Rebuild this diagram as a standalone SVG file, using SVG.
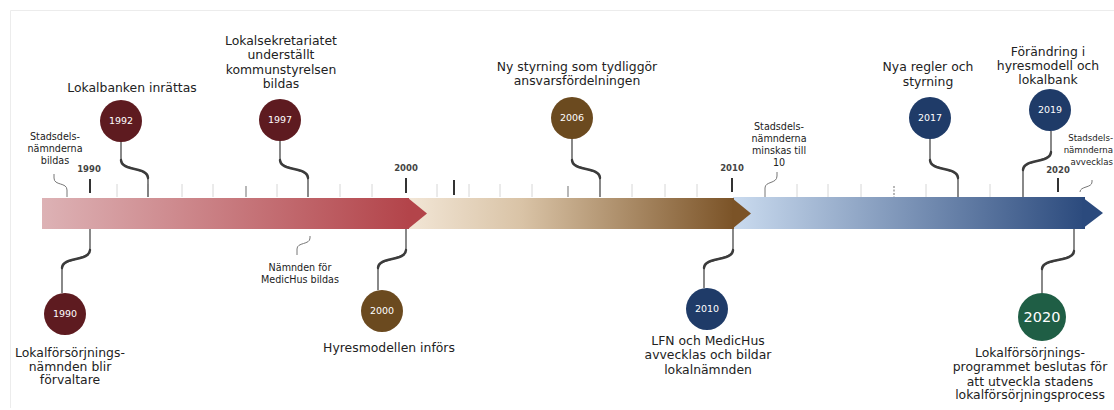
<svg xmlns="http://www.w3.org/2000/svg" width="1114" height="410" viewBox="0 0 1114 410">
  <defs>
    <linearGradient id="gRed" x1="0" y1="0" x2="1" y2="0">
      <stop offset="0" stop-color="#ddb2b5"/>
      <stop offset="1" stop-color="#b3444a"/>
    </linearGradient>
    <linearGradient id="gBrown" x1="0" y1="0" x2="1" y2="0">
      <stop offset="0" stop-color="#f2e6d6"/>
      <stop offset="0.35" stop-color="#d9c3a6"/>
      <stop offset="1" stop-color="#7b5327"/>
    </linearGradient>
    <linearGradient id="gBlue" x1="0" y1="0" x2="1" y2="0">
      <stop offset="0" stop-color="#cadbef"/>
      <stop offset="1" stop-color="#2b4a7d"/>
    </linearGradient>
  </defs>
  <style>
    .t { font-family: "DejaVu Sans", Verdana, sans-serif; fill: #222; text-anchor: middle; }
    .big { font-size: 12.4px; }
    .small { font-size: 9.6px; }
    .edge { font-size: 8.6px; text-anchor: end; }
    .yr { font-size: 8.5px; fill: #444; font-weight: bold; }
    .ct { font-family: "DejaVu Sans", Verdana, sans-serif; fill: #ffffff; text-anchor: middle; font-size: 9.5px; }
    .tickL { stroke: #d6d6d6; stroke-width: 1; }
    .tickD { stroke: #333; stroke-width: 2; }
    .tickM { stroke: #888; stroke-width: 1.2; }
    .conn { fill: none; stroke: #4a4a4a; stroke-width: 1.3; }
    .swoosh { fill: none; stroke: #3c3c3c; stroke-width: 2.4; stroke-linecap: round; }
    .sq { fill: none; stroke: #777; stroke-width: 1; }
    .red { fill: #5e1b20; }
    .brown { fill: #6b4a1f; }
    .navy { fill: #1f3b68; }
    .green { fill: #1f5e45; }
  </style>

  <rect width="1114" height="410" fill="#ffffff"/>
  <!-- outer frame -->
  <path d="M10.5,408 V10.5 H1114" fill="none" stroke="#ececec" stroke-width="1"/>

  <!-- scale ticks above the bar -->
  <g id="ticks">
    <g class="tickL">
      <line x1="117" y1="184" x2="117" y2="197"/>
      <line x1="148" y1="184" x2="148" y2="197"/>
      <line x1="182" y1="184" x2="182" y2="197"/>
      <line x1="213" y1="184" x2="213" y2="197"/>
      <line x1="277" y1="184" x2="277" y2="197"/>
      <line x1="340" y1="184" x2="340" y2="197"/>
      <line x1="372" y1="184" x2="372" y2="197"/>
      <line x1="437" y1="184" x2="437" y2="197"/>
      <line x1="469" y1="184" x2="469" y2="197"/>
      <line x1="500" y1="184" x2="500" y2="197"/>
      <line x1="532" y1="184" x2="532" y2="197"/>
      <line x1="632" y1="184" x2="632" y2="197"/>
      <line x1="665" y1="184" x2="665" y2="197"/>
      <line x1="697" y1="184" x2="697" y2="197"/>
      <line x1="797" y1="184" x2="797" y2="197"/>
      <line x1="828" y1="184" x2="828" y2="197"/>
      <line x1="861" y1="184" x2="861" y2="197"/>
      <line x1="926" y1="184" x2="926" y2="197"/>
      <line x1="990" y1="184" x2="990" y2="197"/>
    </g>
    <g class="tickM">
      <line x1="246" y1="186" x2="246" y2="197"/>
      <line x1="568" y1="186" x2="568" y2="197"/>
      <line x1="894" y1="186" x2="894" y2="197" stroke-dasharray="2 1.5"/>
    </g>
    <g class="tickD">
      <line x1="90" y1="179" x2="90" y2="193"/>
      <line x1="406" y1="178" x2="406" y2="193"/>
      <line x1="454" y1="180" x2="454" y2="195"/>
      <line x1="732" y1="178" x2="732" y2="192"/>
      <line x1="1058" y1="178" x2="1058" y2="192"/>
    </g>
    <text class="t yr" x="89" y="172">1990</text>
    <text class="t yr" x="406" y="171">2000</text>
    <text class="t yr" x="732" y="171">2010</text>
    <text class="t yr" x="1058" y="173">2020</text>
  </g>

  <!-- timeline arrow bar, three periods -->
  <g id="bar">
    <rect x="733" y="197" width="352" height="32" fill="url(#gBlue)"/>
    <path d="M1082,197 L1103,213 L1082,229 Z" fill="#2b4a7d"/>
    <rect x="408" y="198" width="326" height="31" fill="url(#gBrown)"/>
    <path d="M732,198 L751,213.5 L732,229 Z" fill="#7b5327"/>
    <rect x="42" y="198" width="367" height="31" fill="url(#gRed)"/>
    <path d="M408,198 L427,213.5 L408,229 Z" fill="#b3444a"/>
  </g>

  <!-- connectors from the bar to the events -->
  <g id="connectors">
    <!-- above the bar -->
    <path class="conn" d="M121,142 V158 C121,172 148,166 148,180 V197"/>
    <path class="swoosh" d="M121,160 C121,172 148,166 148,178"/>
    <path class="conn" d="M280,141 V158 C280,172 308,166 308,180 V197"/>
    <path class="swoosh" d="M280,160 C280,172 308,166 308,178"/>
    <path class="conn" d="M572,139 V158 C572,172 600,166 600,180 V197"/>
    <path class="swoosh" d="M572,160 C572,172 600,166 600,178"/>
    <path class="conn" d="M930,139 V158 C930,172 958,166 958,180 V197"/>
    <path class="swoosh" d="M930,160 C930,172 958,166 958,178"/>
    <path class="conn" d="M1051,131 V150 C1051,164 1023,158 1023,172 V197"/>
    <path class="swoosh" d="M1051,152 C1051,164 1023,158 1023,170"/>
    <!-- below the bar -->
    <path class="conn" d="M90,229 V248 C90,262 62,256 62,270 V293"/>
    <path class="swoosh" d="M90,250 C90,262 62,256 62,268"/>
    <path class="conn" d="M406,229 V248 C406,262 378,256 378,270 V290"/>
    <path class="swoosh" d="M406,250 C406,262 378,256 378,268"/>
    <path class="conn" d="M733,229 V248 C733,262 704,256 704,270 V288"/>
    <path class="swoosh" d="M733,250 C733,262 704,256 704,268"/>
    <path class="conn" d="M1074,229 V249 C1074,263 1042,257 1042,271 V293"/>
    <path class="swoosh" d="M1074,251 C1074,263 1042,257 1042,269"/>
    <!-- minor events -->
    <path class="sq" d="M54,174 V178 C54,186 67,182 67,190 V197"/>
    <path class="sq" d="M310,236 V238 C310,245 297,242 297,249 V255"/>
    <path class="sq" d="M777,172 V176 C777,184 765,181 765,188 V197"/>
    <path class="sq" d="M1092,180 V182 C1092,188 1080,186 1080,192"/>
  </g>

  <!-- events above the bar -->
  <g id="e1990a">
    <text class="t small" x="55" y="140">Stadsdels-</text>
    <text class="t small" x="55" y="152">nämnderna</text>
    <text class="t small" x="55" y="164">bildas</text>
  </g>
  <g id="e1992">
    <text class="t big" x="132" y="92">Lokalbanken inrättas</text>
    <circle class="red" cx="121" cy="121" r="21"/>
    <text class="ct" x="121" y="124">1992</text>
  </g>
  <g id="e1997">
    <text class="t big" x="281" y="45">Lokalsekretariatet</text>
    <text class="t big" x="281" y="59">underställt</text>
    <text class="t big" x="281" y="74">kommunstyrelsen</text>
    <text class="t big" x="281" y="88">bildas</text>
    <circle class="red" cx="280" cy="120" r="21"/>
    <text class="ct" x="280" y="123">1997</text>
  </g>
  <g id="e2006">
    <text class="t big" x="577" y="71">Ny styrning som tydliggör</text>
    <text class="t big" x="577" y="85">ansvarsfördelningen</text>
    <circle class="brown" cx="572" cy="118" r="21"/>
    <text class="ct" x="572" y="121">2006</text>
  </g>
  <g id="e2010a">
    <text class="t small" x="779" y="130">Stadsdels-</text>
    <text class="t small" x="779" y="142">nämnderna</text>
    <text class="t small" x="779" y="154">minskas till</text>
    <text class="t small" x="779" y="166">10</text>
  </g>
  <g id="e2017">
    <text class="t big" x="928" y="71">Nya regler och</text>
    <text class="t big" x="928" y="86">styrning</text>
    <circle class="navy" cx="930" cy="118" r="21"/>
    <text class="ct" x="930" y="121">2017</text>
  </g>
  <g id="e2019">
    <text class="t big" x="1048" y="56">Förändring i</text>
    <text class="t big" x="1048" y="70">hyresmodell och</text>
    <text class="t big" x="1048" y="84">lokalbank</text>
    <circle class="navy" cx="1050" cy="110" r="21"/>
    <text class="ct" x="1050" y="113">2019</text>
  </g>
  <g id="e2020a">
    <text class="t edge" x="1113" y="141">Stadsdels-</text>
    <text class="t edge" x="1113" y="153">nämnderna</text>
    <text class="t edge" x="1113" y="165">avvecklas</text>
  </g>

  <!-- events below the bar -->
  <g id="e1990">
    <circle class="red" cx="65" cy="314" r="21"/>
    <text class="ct" x="65" y="317">1990</text>
    <text class="t big" x="70" y="357">Lokalförsörjnings-</text>
    <text class="t big" x="70" y="371">nämnden blir</text>
    <text class="t big" x="70" y="384">förvaltare</text>
  </g>
  <g id="e1998">
    <text class="t small" x="300" y="271">Nämnden för</text>
    <text class="t small" x="300" y="283">MedicHus bildas</text>
  </g>
  <g id="e2000">
    <circle class="brown" cx="382" cy="311" r="21"/>
    <text class="ct" x="382" y="314">2000</text>
    <text class="t big" x="389" y="352">Hyresmodellen införs</text>
  </g>
  <g id="e2010">
    <circle class="navy" cx="707" cy="309" r="21"/>
    <text class="ct" x="707" y="312">2010</text>
    <text class="t big" x="708" y="345">LFN och MedicHus</text>
    <text class="t big" x="708" y="359">avvecklas och bildar</text>
    <text class="t big" x="708" y="374">lokalnämnden</text>
  </g>
  <g id="e2020">
    <circle class="green" cx="1042" cy="317" r="24"/>
    <text class="ct" x="1042" y="322" style="font-size:14.5px">2020</text>
    <text class="t big" x="1030" y="357">Lokalförsörjnings-</text>
    <text class="t big" x="1030" y="371">programmet beslutas för</text>
    <text class="t big" x="1030" y="386">att utveckla stadens</text>
    <text class="t big" x="1030" y="399">lokalförsörjningsprocess</text>
  </g>
</svg>
